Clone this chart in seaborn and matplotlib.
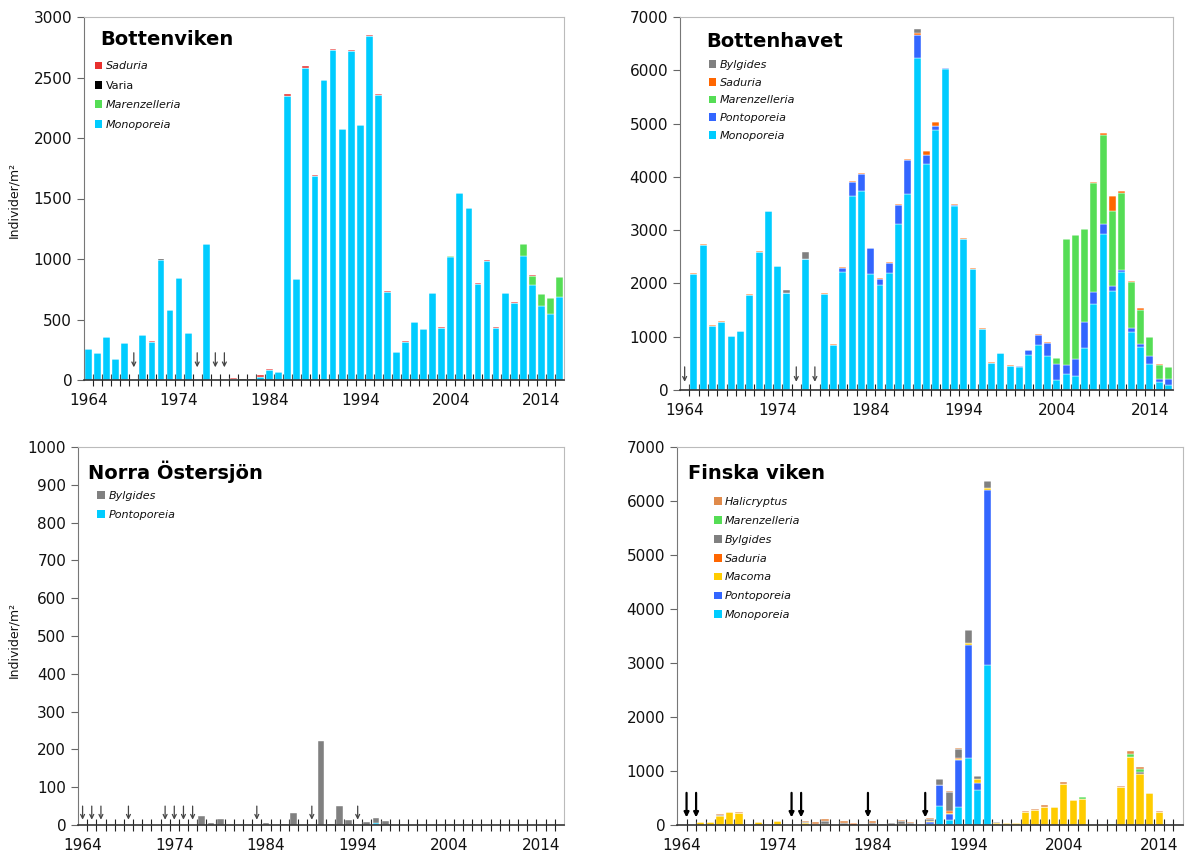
import pandas as pd
import seaborn as sns
import matplotlib.pyplot as plt
from matplotlib.patches import Patch
from matplotlib.transforms import blended_transform_factory

YEARS = list(range(1964, 2017))
DECADE_LABELS = [1964, 1974, 1984, 1994, 2004, 2014]

# Bottenviken, one value per year 1964-2016
bv_monoporeia = [259, 226, 353, 174, 306, 0, 369, 318, 990, 579,
                 840, 391, 0, 1127, 0, 0, 8, 3, 3, 25,
                 85, 64, 2350, 832, 2582, 1690, 2476, 2725, 2071, 2722,
                 2105, 2845, 2352, 730, 228, 318, 477, 420, 722, 433,
                 1018, 1544, 1420, 793, 985, 433, 722, 636, 1028, 782,
                 612, 549, 684]
bv_marenzelleria = [0] * 40 + [5, 0, 0, 0, 0, 0, 0, 0, 95, 80,
                               102, 129, 165]
bv_varia = [0, 0, 0, 0, 0, 0, 0, 0, 6, 0,
            0, 0, 0, 0, 0, 0, 4, 6, 2, 0] + [0] * 33
bv_saduria = [0, 0, 0, 0, 0, 0, 0, 7, 0, 0,
              5, 0, 0, 0, 0, 0, 8, 0, 0, 19,
              5, 4, 10, 4, 10, 6, 4, 10, 4, 8,
              4, 4, 8, 4, 3, 6, 0, 0, 0, 3,
              0, 0, 0, 8, 5, 3, 0, 6, 5, 6,
              0, 0, 4]
bv_missing = [1969, 1976, 1978, 1979]

# Bottenhavet
bh_monoporeia = [0, 2180, 2725, 1205, 1285, 1005, 1100, 1790, 2595, 3360,
                 2320, 1828, 0, 2455, 0, 1800, 850, 2217, 3644, 3738,
                 2173, 1972, 2192, 3112, 3676, 6224, 4239, 4884, 6030, 3460,
                 2830, 2280, 1150, 515, 690, 455, 430, 651, 839, 639,
                 194, 300, 263, 783, 1609, 2924, 1853, 2223, 1089, 814,
                 482, 157, 94]
bh_pontoporeia = [0] * 10 + [0, 0, 0, 0, 0, 0, 0, 70, 260, 320,
                             490, 120, 200, 360, 640, 438, 175, 63, 10, 10,
                             0, 0, 0, 0, 0, 0, 20, 100, 190, 250,
                             288, 170, 325, 494, 232, 188, 101, 25, 69, 44,
                             157, 43, 106]
bh_marenzelleria = [0] * 40 + [125, 2360, 2317, 1753, 2035, 1672, 1409, 1446, 864, 645,
                               351, 270, 226]
bh_saduria = [0, 24, 10, 10, 10, 8, 8, 7, 10, 0,
              15, 0, 0, 0, 0, 28, 20, 23, 22, 18,
              0, 18, 19, 22, 17, 33, 69, 75, 9, 15,
              22, 12, 8, 11, 11, 8, 1, 0, 15, 13,
              0, 0, 0, 0, 19, 44, 275, 32, 19, 31,
              12, 12, 12]
bh_bylgides = [0] * 10 + [0, 57, 0, 137, 0, 0, 0, 0, 0, 0,
                          0, 0, 0, 0, 0, 80, 0, 0, 0, 0] + [0] * 23
bh_missing = [1964, 1976, 1978]

# Norra Östersjön
no_bylgides = [0] * 10 + [0, 0, 0, 25, 5, 16, 0, 0, 0, 0,
                          5, 0, 3, 33, 0, 0, 223, 3, 50, 12,
                          0, 8, 14, 10, 0, 0, 0, 0, 0, 0] + [0] * 13
no_pontoporeia = [0] * 32 + [4] + [0] * 20
no_missing = [1964, 1965, 1966, 1969, 1973, 1974, 1975, 1976, 1983, 1989, 1994]

# Finska viken
fv_monoporeia = [0] * 20 + [0, 0, 0, 0, 0, 0, 10, 350, 86, 331,
                            1239, 656, 2957] + [0] * 20
fv_pontoporeia = [0] * 20 + [0, 0, 0, 0, 0, 0, 40, 398, 110, 865,
                             2086, 123, 3252] + [0] * 20
fv_macoma = [0, 0, 60, 49, 166, 245, 225, 0, 49, 0,
             65, 0, 0, 40, 25, 10, 0, 0, 0, 0,
             0, 0, 0, 20, 0, 0, 30, 0, 25, 25,
             50, 74, 30, 40, 43, 43, 245, 278, 334, 331,
             755, 457, 485, 0, 0, 0, 710, 1264, 951, 586,
             240, 0, 0]
fv_saduria = [0] * 10 + [0, 0, 0, 0, 0, 0, 0, 0, 40, 0,
                         0, 0, 0, 0, 0, 0, 0, 0, 30, 15] + [0] * 23
fv_bylgides = [0, 0, 0, 0, 20, 0, 0, 0, 0, 0,
               0, 0, 0, 15, 0, 70, 0, 40, 0, 0,
               40, 20, 35, 50, 30, 0, 30, 105, 360, 172,
               227, 61, 135, 20, 0, 0, 0, 0, 0, 0,
               0, 0, 0, 0, 0, 0, 0, 0, 37, 0,
               0, 0, 0]
fv_marenzelleria = [0] * 40 + [0, 0, 30, 0, 0, 12, 0, 49, 49, 0,
                               0, 0, 0]
fv_halicryptus = [0, 0, 0, 0, 15, 0, 8, 0, 0, 0,
                  10, 0, 0, 19, 24, 24, 0, 27, 0, 0,
                  27, 0, 0, 16, 19, 0, 17, 0, 12, 10,
                  10, 0, 0, 0, 0, 0, 7, 10, 40, 0,
                  43, 15, 0, 0, 0, 0, 14, 49, 43, 15,
                  24, 0, 0]
# hand drawn arrows in this panel sit on the tick marks
fv_missing = [1964.5, 1965.5, 1975.5, 1976.5, 1983.5, 1989.5]

COLORS = {
    'Monoporeia': '#00CCFF',
    'Pontoporeia': '#3366FF',
    'Marenzelleria': '#55DD55',
    'Varia': '#000000',
    'Bylgides': '#808080',
    'Macoma': '#FFCC00',
    'Halicryptus': '#E08A4A',
}


def stacked_panel(ax, layers, palette, ymax, ystep, title, title_pos,
                  legend_pos, legend_spacing):
    """
    Draws one stacked bar panel. layers is a list of (name, values)
    in legend order, top of the stack first.
    """
    frames = [pd.DataFrame({'year': YEARS, 'species': name, 'value': vals})
              for name, vals in layers]
    df = pd.concat(frames, ignore_index=True)
    names = [name for name, _ in layers]

    sns.histplot(data=df, x='year', weights='value', hue='species',
                 hue_order=names, palette=palette, multiple='stack',
                 discrete=True, shrink=0.75, alpha=1, edgecolor='white',
                 linewidth=0.3, legend=False, ax=ax)

    ax.set_xlim(1963.5, 2016.5)
    ax.set_ylim(0, ymax)
    ax.set_yticks(range(0, ymax + 1, ystep))
    ax.set_xticks(DECADE_LABELS)
    ax.set_xticks([y + 0.5 for y in YEARS[:-1]], minor=True)
    ax.tick_params(axis='x', which='major', bottom=False, labelsize=11,
                   pad=6, labelcolor='#111111')
    ax.tick_params(axis='x', which='minor', bottom=True, direction='inout',
                   length=8, width=0.8, color='#222222')
    ax.tick_params(axis='y', left=True, direction='out', length=5,
                   width=0.8, color='#666666', labelsize=11,
                   labelcolor='#111111')
    ax.set_xlabel('')
    ax.set_ylabel('')

    for side in ['top', 'right']:
        ax.spines[side].set_color('#BBBBBB')
    ax.spines['left'].set_color('#777777')
    ax.spines['bottom'].set_color('#333333')
    ax.spines['bottom'].set_linewidth(1.2)

    ax.text(title_pos[0], title_pos[1], title, transform=ax.transAxes,
            fontsize=14, fontweight='bold', va='center', ha='left',
            color='black')

    handles = [Patch(facecolor=palette[n], edgecolor='none') for n in names]
    leg = ax.legend(handles, names, loc='upper left',
                    bbox_to_anchor=legend_pos, frameon=False, fontsize=8,
                    handlelength=0.7, handleheight=0.7, handletextpad=0.3,
                    labelspacing=legend_spacing, borderpad=0,
                    borderaxespad=0)
    for txt in leg.get_texts():
        txt.set_color('#111111')
        if txt.get_text() != 'Varia':
            txt.set_fontstyle('italic')


def draw_arrows(ax, years, y_tip, y_tail, color, lw, head):
    trans = blended_transform_factory(ax.transData, ax.transAxes)
    for yr in years:
        ax.annotate('', xy=(yr, y_tip), xytext=(yr, y_tail),
                    xycoords=trans, textcoords=trans,
                    arrowprops=dict(arrowstyle=head, color=color, lw=lw,
                                    mutation_scale=7, shrinkA=0, shrinkB=0))


def main():
    sns.set_style('white')
    plt.rcParams['font.family'] = ['DejaVu Sans']

    W, H = 1189, 858
    fig = plt.figure(figsize=(W / 100, H / 100), dpi=100)

    def box(x0, y0, x1, y1):
        return [x0 / W, 1 - y1 / H, (x1 - x0) / W, (y1 - y0) / H]

    ax_bv = fig.add_axes(box(84, 17, 564, 380))
    ax_bh = fig.add_axes(box(680, 17, 1173, 390))
    ax_no = fig.add_axes(box(78, 447, 564, 825))
    ax_fv = fig.add_axes(box(677, 447, 1183, 825))

    pal_bv = dict(COLORS, Saduria='#E8302E')
    stacked_panel(ax_bv,
                  [('Saduria', bv_saduria), ('Varia', bv_varia),
                   ('Marenzelleria', bv_marenzelleria),
                   ('Monoporeia', bv_monoporeia)],
                  pal_bv, 3000, 500, 'Bottenviken', (0.033, 0.937),
                  (0.022, 0.878), 0.85)
    draw_arrows(ax_bv, bv_missing, 0.035, 0.075, '#444444', 0.9, '->')

    pal_orange = dict(COLORS, Saduria='#FF6600')
    stacked_panel(ax_bh,
                  [('Bylgides', bh_bylgides), ('Saduria', bh_saduria),
                   ('Marenzelleria', bh_marenzelleria),
                   ('Pontoporeia', bh_pontoporeia),
                   ('Monoporeia', bh_monoporeia)],
                  pal_orange, 7000, 1000, 'Bottenhavet', (0.053, 0.933),
                  (0.058, 0.885), 0.7)
    draw_arrows(ax_bh, bh_missing, 0.022, 0.062, '#444444', 0.9, '->')

    # in this panel Pontoporeia is drawn in the light blue
    pal_no = dict(COLORS, Pontoporeia='#00CCFF')
    stacked_panel(ax_no,
                  [('Bylgides', no_bylgides),
                   ('Pontoporeia', no_pontoporeia)],
                  pal_no, 1000, 100, 'Norra \u00d6stersj\u00f6n',
                  (0.02, 0.934), (0.04, 0.884), 0.8)
    draw_arrows(ax_no, no_missing, 0.014, 0.05, '#444444', 0.9, '->')

    stacked_panel(ax_fv,
                  [('Halicryptus', fv_halicryptus),
                   ('Marenzelleria', fv_marenzelleria),
                   ('Bylgides', fv_bylgides), ('Saduria', fv_saduria),
                   ('Macoma', fv_macoma), ('Pontoporeia', fv_pontoporeia),
                   ('Monoporeia', fv_monoporeia)],
                  pal_orange, 7000, 1000, 'Finska viken', (0.022, 0.931),
                  (0.073, 0.868), 0.8)
    draw_arrows(ax_fv, fv_missing, 0.02, 0.085, 'black', 1.6, '-|>')

    for ypos in [200, 640]:
        fig.text(14 / W, 1 - ypos / H, 'Individer/m\u00b2', rotation=90,
                 ha='center', va='center', fontsize=9, color='#111111')

    fig.savefig('out.png', dpi=100)


if __name__ == '__main__':
    main()
